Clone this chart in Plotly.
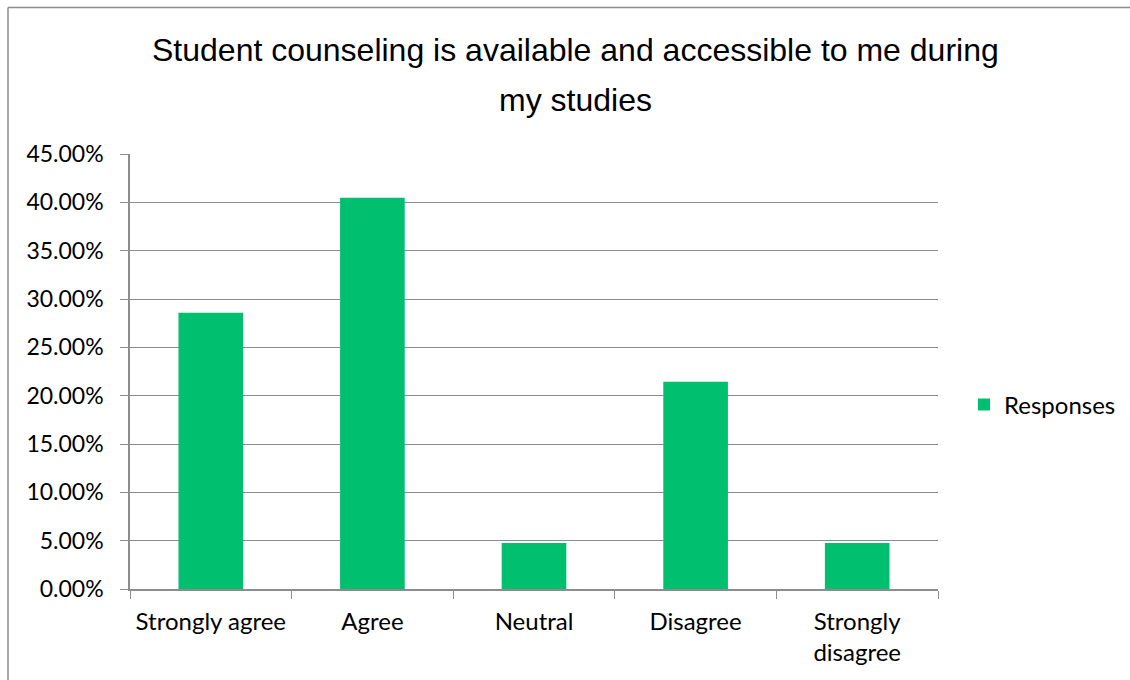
import plotly.graph_objects as go

categories = ["Strongly agree", "Agree", "Neutral", "Disagree", "Strongly<br>disagree"]
values = [0.2857, 0.4048, 0.0476, 0.2143, 0.0476]
series_name = "Responses"
y_ticks = [0, 0.05, 0.10, 0.15, 0.20, 0.25, 0.30, 0.35, 0.40, 0.45]
y_tick_labels = [f"{v*100:.2f}%" for v in y_ticks]
title_lines = ["Student counseling is available and accessible to me during", "my studies"]

W, H = 1130, 680
L, R, T, B = 130, 938, 154, 589
pw, ph = R - L, B - T

def px(x):
    return (x - L) / pw

def py(y):
    return (B - y) / ph

fig = go.Figure()
fig.add_trace(go.Bar(
    x=categories, y=values, name=series_name,
    marker=dict(color="#00BF6F", line=dict(width=0)),
    width=0.4, showlegend=True,
))

grid = "#8c8c8c"
tickfont = dict(family="Lato, Open Sans", size=23, color="#000000")
annotations = []
for line, yc in zip(title_lines, [50, 100]):
    annotations.append(dict(
        text=line, xref="paper", yref="paper", x=px(575), y=py(yc),
        xanchor="center", yanchor="middle", showarrow=False,
        font=dict(family="Liberation Sans, Arial", size=32, color="#000000"),
    ))

border = dict(color="#8c8c8c", width=1.5)
fig.update_layout(
    width=W, height=H,
    margin=dict(l=L, r=W - R, t=T, b=H - B, autoexpand=False),
    paper_bgcolor="white", plot_bgcolor="white",
    annotations=annotations,
    legend=dict(
        x=px(964), y=py(405), xanchor="left", yanchor="middle",
        font=dict(family="Lato, Open Sans", size=24, color="#000000"),
        itemwidth=30, bgcolor="rgba(0,0,0,0)",
    ),
    xaxis=dict(
        type="category", showgrid=False, showline=True, linecolor=grid, linewidth=1.5,
        ticks="outside", tickson="boundaries", ticklen=8, tickcolor=grid,
        tickfont=dict(family="Lato, Open Sans", size=24, color="#000000"),
        ticklabelstandoff=10,
    ),
    yaxis=dict(
        range=[0, 0.45], tickvals=y_ticks, ticktext=y_tick_labels,
        showgrid=True, gridcolor=grid, gridwidth=1.2,
        showline=True, linecolor=grid, linewidth=1.5,
        ticks="outside", ticklen=8, tickcolor=grid,
        tickfont=tickfont, ticklabelstandoff=12,
        zeroline=False,
    ),
    shapes=[
        dict(type="line", xref="paper", yref="paper",
             x0=px(8), x1=px(1135), y0=py(7.5), y1=py(7.5), line=border, layer="below"),
        dict(type="line", xref="paper", yref="paper",
             x0=px(8), x1=px(8), y0=py(7.5), y1=py(685), line=border, layer="below"),
    ],
)

fig.write_html(
    "out.html",
    config={"displayModeBar": False},
    post_script="document.body.style.margin='0';document.body.style.overflow='hidden';",
)
